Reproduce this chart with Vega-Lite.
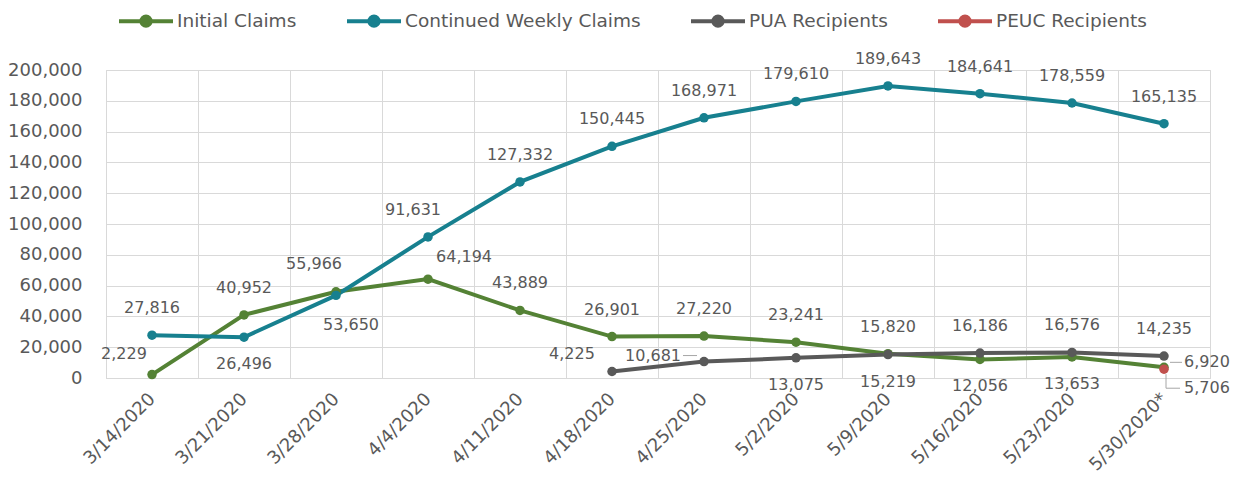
{
  "$schema": "https://vega.github.io/schema/vega-lite/v6.json",
  "width": 1104,
  "height": 308,
  "autosize": {"type": "none"},
  "padding": {"left": 106, "top": 70, "right": 30, "bottom": 109},
  "background": "white",
  "config": {
    "font": "DejaVu Sans",
    "view": {"stroke": "#d9d9d9", "strokeWidth": 1},
    "text": {"font": "DejaVu Sans", "fontSize": 16, "fill": "#595959"}
  },
  "data": {
    "values": [
      {"week": "3/14/2020", "series": "Initial Claims", "value": 2229},
      {"week": "3/21/2020", "series": "Initial Claims", "value": 40952},
      {"week": "3/28/2020", "series": "Initial Claims", "value": 55966},
      {"week": "4/4/2020", "series": "Initial Claims", "value": 64194},
      {"week": "4/11/2020", "series": "Initial Claims", "value": 43889},
      {"week": "4/18/2020", "series": "Initial Claims", "value": 26901},
      {"week": "4/25/2020", "series": "Initial Claims", "value": 27220},
      {"week": "5/2/2020", "series": "Initial Claims", "value": 23241},
      {"week": "5/9/2020", "series": "Initial Claims", "value": 15820},
      {"week": "5/16/2020", "series": "Initial Claims", "value": 12056},
      {"week": "5/23/2020", "series": "Initial Claims", "value": 13653},
      {"week": "5/30/2020*", "series": "Initial Claims", "value": 6920},
      {"week": "3/14/2020", "series": "Continued Weekly Claims", "value": 27816},
      {"week": "3/21/2020", "series": "Continued Weekly Claims", "value": 26496},
      {"week": "3/28/2020", "series": "Continued Weekly Claims", "value": 53650},
      {"week": "4/4/2020", "series": "Continued Weekly Claims", "value": 91631},
      {"week": "4/11/2020", "series": "Continued Weekly Claims", "value": 127332},
      {"week": "4/18/2020", "series": "Continued Weekly Claims", "value": 150445},
      {"week": "4/25/2020", "series": "Continued Weekly Claims", "value": 168971},
      {"week": "5/2/2020", "series": "Continued Weekly Claims", "value": 179610},
      {"week": "5/9/2020", "series": "Continued Weekly Claims", "value": 189643},
      {"week": "5/16/2020", "series": "Continued Weekly Claims", "value": 184641},
      {"week": "5/23/2020", "series": "Continued Weekly Claims", "value": 178559},
      {"week": "5/30/2020*", "series": "Continued Weekly Claims", "value": 165135},
      {"week": "4/18/2020", "series": "PUA Recipients", "value": 4225},
      {"week": "4/25/2020", "series": "PUA Recipients", "value": 10681},
      {"week": "5/2/2020", "series": "PUA Recipients", "value": 13075},
      {"week": "5/9/2020", "series": "PUA Recipients", "value": 15219},
      {"week": "5/16/2020", "series": "PUA Recipients", "value": 16186},
      {"week": "5/23/2020", "series": "PUA Recipients", "value": 16576},
      {"week": "5/30/2020*", "series": "PUA Recipients", "value": 14235},
      {"week": "5/30/2020*", "series": "PEUC Recipients", "value": 5706}
    ]
  },
  "encoding": {
    "x": {
      "field": "week",
      "type": "ordinal",
      "sort": ["3/14/2020", "3/21/2020", "3/28/2020", "4/4/2020", "4/11/2020", "4/18/2020", "4/25/2020", "5/2/2020", "5/9/2020", "5/16/2020", "5/23/2020", "5/30/2020*"],
      "bandPosition": 0.5,
      "scale": {"type": "band", "paddingInner": 0, "paddingOuter": 0},
      "axis": {
        "title": null,
        "labelAngle": -45,
        "labelAlign": "right",
        "labelBaseline": "middle",
        "labelFont": "DejaVu Sans",
        "labelFontSize": 18,
        "labelColor": "#595959",
        "labelPadding": 18,
        "ticks": false,
        "tickBand": "extent",
        "domainColor": "#d9d9d9",
        "grid": true,
        "gridColor": "#d9d9d9",
        "labelOverlap": false
      }
    },
    "y": {
      "field": "value",
      "type": "quantitative",
      "scale": {"domain": [0, 200000], "nice": false},
      "axis": {
        "title": null,
        "values": [0, 20000, 40000, 60000, 80000, 100000, 120000, 140000, 160000, 180000, 200000],
        "format": ",.0f",
        "labelFont": "DejaVu Sans",
        "labelFontSize": 18,
        "labelColor": "#595959",
        "labelPadding": 24,
        "ticks": false,
        "domain": false,
        "gridColor": "#d9d9d9"
      }
    }
  },
  "layer": [
    {
      "mark": {"type": "line", "strokeWidth": 4},
      "encoding": {
        "color": {
          "field": "series",
          "type": "nominal",
          "scale": {
            "domain": ["Initial Claims", "Continued Weekly Claims", "PUA Recipients", "PEUC Recipients"],
            "range": ["#548235", "#17808f", "#595959", "#c0504d"]
          },
          "legend": {
            "title": null,
            "orient": "none",
            "legendX": 11,
            "legendY": -78,
            "direction": "horizontal",
            "padding": 0,
            "symbolType": "M-1,0H1M-0.17,0A0.17,0.17 0 1,0 0.17,0A0.17,0.17 0 1,0 -0.17,0",
            "symbolSize": 2916,
            "symbolStrokeWidth": 4,
            "labelFont": "DejaVu Sans",
            "labelFontSize": 18.5,
            "labelColor": "#595959",
            "labelOffset": 2,
            "labelLimit": 500,
            "columnPadding": 42,
            "encode": {
              "symbols": {
                "update": {
                  "fill": {"scale": "color", "field": "value"},
                  "stroke": {"scale": "color", "field": "value"},
                  "opacity": {"value": 1}
                }
              }
            }
          }
        }
      }
    },
    {
      "mark": {"type": "point", "filled": true, "size": 90, "opacity": 1},
      "encoding": {
        "color": {"field": "series", "type": "nominal", "legend": null}
      }
    },
    {
      "transform": [{"filter": "(datum.series == 'Continued Weekly Claims' && indexof(['3/21/2020','3/28/2020','4/4/2020'], datum.week) < 0) || (datum.series == 'Initial Claims' && indexof(['3/21/2020','4/11/2020','4/18/2020','4/25/2020','5/2/2020','5/9/2020'], datum.week) >= 0) || (datum.series == 'PUA Recipients' && indexof(['5/16/2020','5/23/2020','5/30/2020*'], datum.week) >= 0)"}],
      "mark": {"type": "text", "dy": -27, "baseline": "middle", "align": "center"},
      "encoding": {"text": {"field": "value", "type": "quantitative", "format": ","}}
    },
    {
      "transform": [{"filter": "(datum.series == 'Continued Weekly Claims' && datum.week == '3/21/2020') || (datum.series == 'Initial Claims' && indexof(['5/16/2020','5/23/2020'], datum.week) >= 0) || (datum.series == 'PUA Recipients' && indexof(['5/2/2020','5/9/2020'], datum.week) >= 0)"}],
      "mark": {"type": "text", "dy": 27, "baseline": "middle", "align": "center"},
      "encoding": {"text": {"field": "value", "type": "quantitative", "format": ","}}
    },
    {
      "transform": [{"filter": "datum.series == 'Continued Weekly Claims' && datum.week == '3/28/2020'"}],
      "mark": {"type": "text", "dx": 15, "dy": 30, "baseline": "middle", "align": "center"},
      "encoding": {"text": {"field": "value", "type": "quantitative", "format": ","}}
    },
    {
      "transform": [{"filter": "datum.series == 'Continued Weekly Claims' && datum.week == '4/4/2020'"}],
      "mark": {"type": "text", "dx": -15, "dy": -27, "baseline": "middle", "align": "center"},
      "encoding": {"text": {"field": "value", "type": "quantitative", "format": ","}}
    },
    {
      "transform": [{"filter": "datum.series == 'Initial Claims' && datum.week == '3/14/2020'"}],
      "mark": {"type": "text", "dx": -28, "dy": -21, "baseline": "middle", "align": "center"},
      "encoding": {"text": {"field": "value", "type": "quantitative", "format": ","}}
    },
    {
      "transform": [{"filter": "datum.series == 'Initial Claims' && datum.week == '3/28/2020'"}],
      "mark": {"type": "text", "dx": -22, "dy": -28, "baseline": "middle", "align": "center"},
      "encoding": {"text": {"field": "value", "type": "quantitative", "format": ","}}
    },
    {
      "transform": [{"filter": "datum.series == 'Initial Claims' && datum.week == '4/4/2020'"}],
      "mark": {"type": "text", "dx": 36, "dy": -22, "baseline": "middle", "align": "center"},
      "encoding": {"text": {"field": "value", "type": "quantitative", "format": ","}}
    },
    {
      "transform": [{"filter": "datum.series == 'PUA Recipients' && datum.week == '4/18/2020'"}],
      "mark": {"type": "text", "dx": -40, "dy": -17, "baseline": "middle", "align": "center"},
      "encoding": {"text": {"field": "value", "type": "quantitative", "format": ","}}
    },
    {
      "transform": [{"filter": "datum.series == 'PUA Recipients' && datum.week == '4/25/2020'"}],
      "mark": {"type": "text", "dx": -23, "dy": -6, "baseline": "middle", "align": "right"},
      "encoding": {"text": {"field": "value", "type": "quantitative", "format": ","}}
    },
    {
      "transform": [{"filter": "datum.series == 'Initial Claims' && datum.week == '5/30/2020*'"}],
      "mark": {"type": "text", "dx": 20, "dy": -5, "baseline": "middle", "align": "left"},
      "encoding": {"text": {"field": "value", "type": "quantitative", "format": ","}}
    },
    {
      "transform": [{"filter": "datum.series == 'PEUC Recipients'"}],
      "mark": {"type": "text", "dx": 20, "dy": 19, "baseline": "middle", "align": "left"},
      "encoding": {"text": {"field": "value", "type": "quantitative", "format": ","}}
    },
    {
      "transform": [{"filter": "datum.series == 'PUA Recipients' && datum.week == '4/25/2020'"}],
      "mark": {"type": "point", "shape": "M-21,-6H-7", "size": 4, "filled": false, "stroke": "#a6a6a6", "strokeWidth": 1, "opacity": 1}
    },
    {
      "transform": [{"filter": "datum.series == 'Initial Claims' && datum.week == '5/30/2020*'"}],
      "mark": {"type": "point", "shape": "M6,-5H18", "size": 4, "filled": false, "stroke": "#a6a6a6", "strokeWidth": 1, "opacity": 1}
    },
    {
      "transform": [{"filter": "datum.series == 'PEUC Recipients'"}],
      "mark": {"type": "point", "shape": "M2,5V19H16", "size": 4, "filled": false, "stroke": "#a6a6a6", "strokeWidth": 1, "opacity": 1}
    }
  ]
}
